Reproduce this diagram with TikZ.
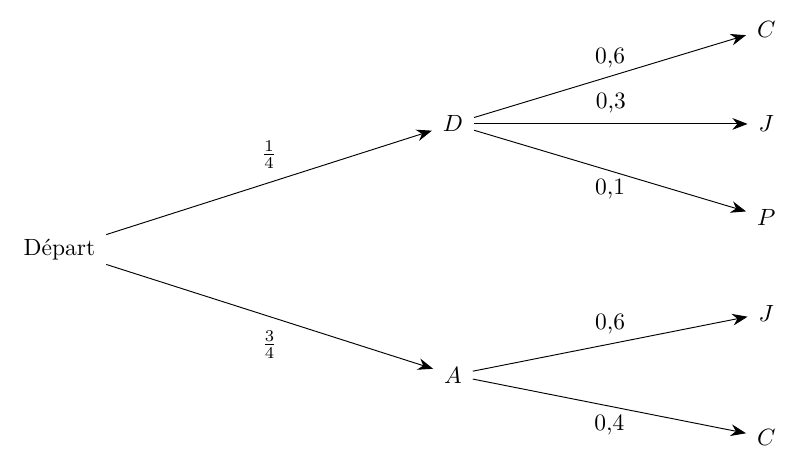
\documentclass[tikz,border=0pt]{standalone}
\usepackage{fontspec}
\usetikzlibrary{arrows.meta}
\tikzset{
    etat/.style={inner sep=4.5pt, font=\normalsize},
    branche/.style={-{Stealth[length=6.5pt, width=5pt]}, line width=0.4pt},
    proba/.style={font=\normalsize, inner sep=3.33pt}
}

\begin{document}
\begin{tikzpicture}
                \useasboundingbox (-0.89, -3.27) rectangle (11.07, 3.735);

                % Racine
                \node (depart) [etat] at (0, 0) {Départ};

                % Premier niveau
                \node (noeud_d) [etat] at (5.89, 1.88) {$D$};
                \node (noeud_a) [etat] at (5.89, -1.88) {$A$};

                % Second niveau (apres D)
                \node (d_c) [etat] at (10.58, 3.3) {$C$};
                \node (d_j) [etat] at (10.58, 1.88) {$J$};
                \node (d_p) [etat] at (10.58, 0.48) {$P$};

                % Second niveau (apres A)
                \node (a_j) [etat] at (10.58, -0.95) {$J$};
                \node (a_c) [etat] at (10.58, -2.81) {$C$};

                % Branches du premier niveau
                \draw [branche] (depart) -- node[proba, above=2.5pt] {$\frac{1}{4}$} (noeud_d);
                \draw [branche] (depart) -- node[proba, below=2.5pt] {$\frac{3}{4}$} (noeud_a);

                % Branches issues de D
                \draw [branche] (noeud_d) -- node[proba, above=0pt] {0,6} (d_c);
                \draw [branche] (noeud_d) -- node[proba, above=1pt] {0,3} (d_j);
                \draw [branche] (noeud_d) -- node[proba, below=0pt] {0,1} (d_p);

                % Branches issues de A
                \draw [branche] (noeud_a) -- node[proba, above=0.5pt] {0,6} (a_j);
                \draw [branche] (noeud_a) -- node[proba, below=0pt] {0,4} (a_c);

            \end{tikzpicture}
\end{document}
